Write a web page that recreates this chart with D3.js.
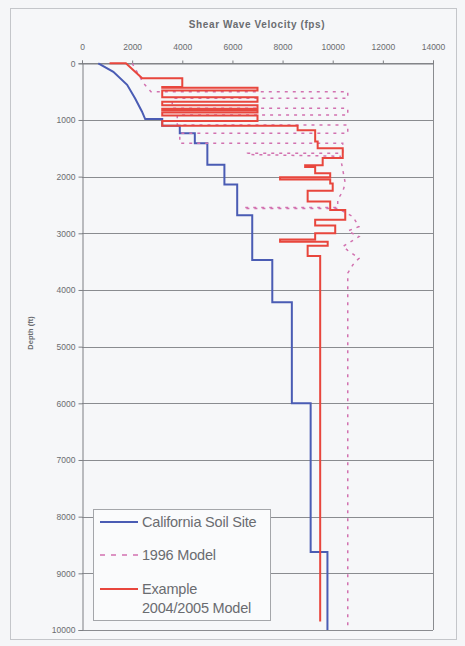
<!DOCTYPE html>
<html>
<head>
<meta charset="utf-8">
<script src="https://cdn.jsdelivr.net/npm/d3@7"></script>
<style>
  html, body { margin: 0; padding: 0; background: #f5f6f8; }
  svg { display: block; font-family: "Liberation Sans", Arial, sans-serif; }
</style>
</head>
<body>
<svg id="chart" width="465" height="646"></svg>
<script>
// ---- data ----
const xTicks = [0, 2000, 4000, 6000, 8000, 10000, 12000, 14000];
const yTicks = [0, 1000, 2000, 3000, 4000, 5000, 6000, 7000, 8000, 9000, 10000];

// California Soil Site (path vertices: velocity fps, depth ft)
const caVel   = [650, 1250, 1800, 2120, 2390, 2520, 3200, 3200, 3900, 3900, 4500, 4500, 5000, 5000, 5680, 5680, 6190, 6190, 6790, 6790, 7590, 7590, 8370, 8370, 9120, 9120, 9790, 9790];
const caDepth = [0, 150, 380, 620, 850, 985, 985, 1100, 1100, 1235, 1235, 1411, 1411, 1790, 1790, 2140, 2140, 2680, 2680, 3469, 3469, 4215, 4215, 6000, 6000, 8624, 8624, 10000];

// 1996 Model
const m96Vel   = [2000, 2450, 2750, 10600, 10600, 3600, 3600, 10600, 10600, 3800, 3800, 10600, 10600, 3900, 3900, 10400, 10400, 6600, 6600, 10300, 10500, 10400, 10200, 10200, 6450, 6450, 10200, 10800, 11050, 10600, 11050, 10400, 10600, 11050, 10800, 10600, 10600];
const m96Depth = [0, 350, 500, 500, 618, 618, 794, 794, 912, 912, 1088, 1088, 1235, 1235, 1411, 1411, 1587, 1587, 1610, 1640, 2116, 2264, 2400, 2546, 2546, 2560, 2560, 2705, 2881, 2960, 3058, 3234, 3300, 3440, 3558, 3704, 9950];

// Example 2004/2005 Model
const m05Vel   = [1100, 1750, 2400, 4000, 4000, 3200, 3200, 7000, 7000, 3200, 3200, 7000, 7000, 3200, 3200, 7000, 7000, 3200, 3200, 7000, 7000, 3200, 3200, 7000, 7000, 3200, 3200, 8600, 8600, 9300, 9300, 9400, 9400, 10400, 10400, 9600, 9600, 8900, 8900, 9300, 9300, 9900, 9900, 7900, 7900, 9900, 9900, 10000, 10000, 9000, 9000, 9900, 9900, 10500, 10500, 9300, 9300, 10100, 10100, 9300, 9300, 7900, 7900, 9800, 9800, 9000, 9000, 9500, 9500];
const m05Depth = [0, 0, 265, 265, 420, 420, 430, 430, 480, 480, 600, 600, 680, 680, 740, 740, 800, 800, 830, 830, 870, 870, 920, 920, 1020, 1020, 1100, 1100, 1180, 1180, 1380, 1380, 1500, 1500, 1670, 1670, 1800, 1800, 1830, 1830, 1940, 1940, 2010, 2010, 2050, 2050, 2120, 2120, 2250, 2250, 2440, 2440, 2590, 2590, 2760, 2760, 2860, 2860, 3000, 3000, 3110, 3110, 3150, 3150, 3220, 3220, 3400, 3400, 9850];

const legendLabels = [["California Soil Site"], ["1996 Model"], ["Example", "2004/2005 Model"]];

// ---- drawing ----
const svg = d3.select("#chart");
const plot = { left: 82, right: 433, top: 63.3, bottom: 630 };

const x = d3.scaleLinear().domain([0, 14000]).range([plot.left, plot.right]);
const y = d3.scaleLinear().domain([0, 10000]).range([plot.top, plot.bottom]);

// outer frame
svg.append("rect").attr("x", 10.5).attr("y", 8.5).attr("width", 446).attr("height", 631)
  .attr("fill", "#f6f7f9").attr("stroke", "#c4c6ca").attr("stroke-width", 1);

// horizontal gridlines
svg.append("g").selectAll("line").data(yTicks).join("line")
  .attr("x1", plot.left).attr("x2", plot.right)
  .attr("y1", d => Math.round(y(d)) + 0.5).attr("y2", d => Math.round(y(d)) + 0.5)
  .attr("stroke", "#8a8c90").attr("stroke-width", 1);
// right border
svg.append("line").attr("x1", plot.right + 0.5).attr("x2", plot.right + 0.5)
  .attr("y1", y(0)).attr("y2", y(10000)).attr("stroke", "#8a8c90");

// axes
const xAxis = d3.axisTop(x).tickValues(xTicks).tickSize(3).tickPadding(11).tickFormat(d3.format("d"));
const gx = svg.append("g").attr("transform", `translate(0,${Math.round(y(0)) + 0.5})`).call(xAxis);
const yAxis = d3.axisLeft(y).tickValues(yTicks).tickSize(4).tickPadding(3).tickFormat(d3.format("d"));
const gy = svg.append("g").attr("transform", `translate(${plot.left + 0.5},0)`).call(yAxis);
[gx, gy].forEach(g => {
  g.selectAll("path.domain").attr("stroke", "#7d7f83");
  g.selectAll(".tick line").attr("stroke", "#7d7f83");
  g.selectAll("text").attr("fill", "#6a6c70").style("font-size", "8.5px")
    .style("font-family", "'Liberation Sans', Arial, sans-serif");
});

// titles
svg.append("text").attr("x", 257).attr("y", 28).attr("text-anchor", "middle")
  .attr("font-size", "10px").attr("font-weight", "bold").attr("fill", "#6a6c70")
  .attr("letter-spacing", "0.6px")
  .text("Shear Wave Velocity (fps)");
svg.append("text").attr("transform", "translate(33,333) rotate(-90)").attr("text-anchor", "middle")
  .attr("font-size", "7.5px").attr("font-weight", "bold").attr("fill", "#6a6c70")
  .text("Depth (ft)");

// series
const line = d3.line().x(d => x(d[0])).y(d => y(d[1]));
const ca  = caVel.map((v, i) => [v, caDepth[i]]);
const m96 = m96Vel.map((v, i) => [v, m96Depth[i]]);
const m05 = m05Vel.map((v, i) => [v, m05Depth[i]]);

const colBlue = "#4a5cb4", colPink = "#d272b0", colRed = "#e8463d";

svg.append("path").datum(ca).attr("d", line).attr("fill", "none")
  .attr("stroke", colBlue).attr("stroke-width", 2);
svg.append("path").datum(m96).attr("d", line).attr("fill", "none")
  .attr("stroke", colPink).attr("stroke-width", 1.5).attr("stroke-dasharray", "3,5");
svg.append("path").datum(m05).attr("d", line).attr("fill", "none")
  .attr("stroke", colRed).attr("stroke-width", 2).attr("stroke-linejoin", "miter");

// legend
const lg = svg.append("g");
lg.append("rect").attr("x", 93.5).attr("y", 509.5).attr("width", 177).attr("height", 111)
  .attr("fill", "#fafbfc").attr("stroke", "#a4a6aa");
const legendItems = [
  { color: colBlue, dash: null, ly: 522 },
  { color: colPink, dash: "5,6", ly: 555 },
  { color: colRed, dash: null, ly: 589 }
];
legendItems.forEach((it, i) => {
  lg.append("line").attr("x1", 100).attr("x2", 138).attr("y1", it.ly).attr("y2", it.ly)
    .attr("stroke", it.color).attr("stroke-width", it.dash ? 1.5 : 2)
    .attr("stroke-dasharray", it.dash);
  legendLabels[i].forEach((t, j) => {
    lg.append("text").attr("x", 142).attr("y", it.ly + 5 + j * 19)
      .attr("font-size", "14.5px").attr("fill", "#6a6c70").attr("letter-spacing", "-0.2px").text(t);
  });
});
</script>
</body>
</html>
